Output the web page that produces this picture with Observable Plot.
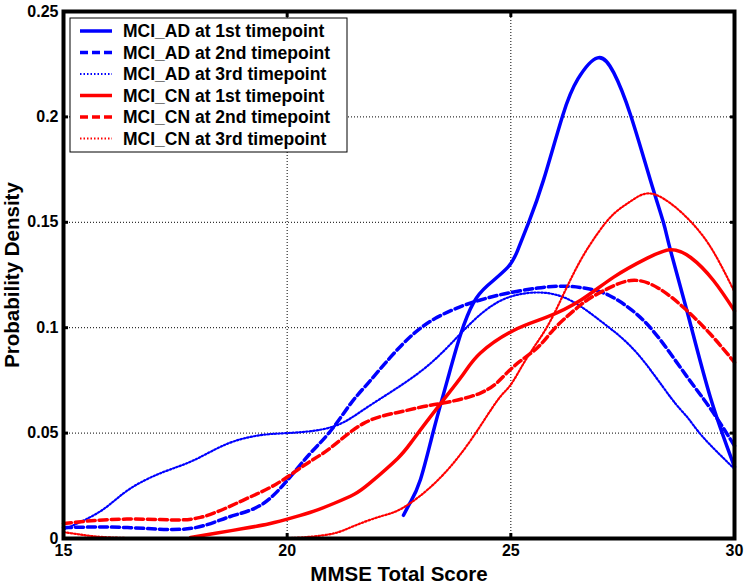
<!DOCTYPE html>
<html>
<head>
<meta charset="utf-8">
<script src="https://cdn.jsdelivr.net/npm/d3@7"></script>
<script src="https://cdn.jsdelivr.net/npm/@observablehq/plot@0.6"></script>
<style>
  html, body { margin: 0; padding: 0; background: #fff; }
  svg { font-family: "Liberation Sans", Arial, sans-serif; }
</style>
</head>
<body>
<div id="chart"></div>
<script>
const seriesNames = [
  "MCI_AD at 1st timepoint", "MCI_AD at 2nd timepoint", "MCI_AD at 3rd timepoint",
  "MCI_CN at 1st timepoint", "MCI_CN at 2nd timepoint", "MCI_CN at 3rd timepoint"
];
const seriesColors = ["#0000ff", "#0000ff", "#0000ff", "#ff0000", "#ff0000", "#ff0000"];
const seriesStyles = ["solid", "dashed", "dotted", "solid", "dashed", "dotted"];

const ad1X = [22.6, 22.75, 22.98, 23.27, 23.58, 23.88, 24.17, 24.48, 24.93, 25.15, 25.4, 25.73, 26.16, 26.5, 26.94, 27.3, 27.68, 28.12, 28.41, 28.57, 28.95, 29.46, 30];
const ad1Y = [0.011, 0.017, 0.028, 0.051, 0.075, 0.097, 0.112, 0.120, 0.1286, 0.1366, 0.150, 0.170, 0.2007, 0.218, 0.228, 0.221, 0.2007, 0.170, 0.150, 0.1366, 0.107, 0.067, 0.034];

const ad2X = [15, 16.43, 17.77, 18.67, 19.4, 20.0, 20.5, 20.97, 21.42, 21.8, 22.31, 22.82, 23.36, 23.94, 24.3, 24.84, 25.6, 26.2, 26.7, 27.2, 27.8, 28.35, 28.95, 29.46, 30];
const ad2Y = [0.0052, 0.0052, 0.0046, 0.010, 0.0157, 0.0275, 0.040, 0.051, 0.064, 0.0735, 0.086, 0.097, 0.105, 0.1105, 0.113, 0.1160, 0.1188, 0.1197, 0.1186, 0.1153, 0.1067, 0.094, 0.0764, 0.0617, 0.044];

const ad3X = [15, 15.83, 16.43, 17.17, 17.9, 18.67, 19.4, 20.0, 20.97, 21.7, 22.47, 23.2, 23.8, 24.25, 24.84, 25.6, 26.33, 27.08, 27.83, 28.57, 28.95, 29.3, 30];
const ad3Y = [0.0042, 0.013, 0.0228, 0.031, 0.037, 0.045, 0.049, 0.050, 0.0527, 0.061, 0.0716, 0.083, 0.0955, 0.105, 0.1135, 0.1167, 0.113, 0.102, 0.0877, 0.067, 0.0574, 0.048, 0.033];

const cn1X = [17.84, 18.4, 19.02, 19.6, 20.14, 20.6, 21.04, 21.5, 21.86, 22.47, 22.82, 23.43, 23.94, 24.32, 25.06, 25.8, 26.56, 27.3, 28.05, 28.57, 29.02, 29.53, 30];
const cn1Y = [0.0005, 0.0025, 0.0047, 0.007, 0.010, 0.013, 0.0166, 0.021, 0.0265, 0.038, 0.047, 0.064, 0.078, 0.088, 0.0987, 0.105, 0.113, 0.124, 0.133, 0.137, 0.1333, 0.1224, 0.108];

const cn2X = [15, 16.05, 17.17, 18.06, 19.0, 19.77, 20.4, 20.97, 21.7, 22.47, 23.05, 23.43, 24.32, 24.84, 25.2, 25.6, 25.95, 26.33, 26.7, 27.08, 27.68, 28.28, 28.86, 29.46, 30];
const cn2Y = [0.0071, 0.009, 0.009, 0.010, 0.018, 0.026, 0.035, 0.043, 0.0545, 0.0598, 0.0626, 0.064, 0.069, 0.077, 0.084, 0.0906, 0.099, 0.1067, 0.113, 0.1176, 0.1224, 0.119, 0.1096, 0.097, 0.0835];

const cn3X = [15, 15.5, 16.05, 17, 18, 19, 20, 20.5, 21.04, 21.5, 22.09, 22.6, 23.36, 24.1, 24.7, 25.0, 25.37, 25.8, 26.18, 26.56, 26.94, 27.3, 27.68, 28.08, 28.57, 29.08, 29.53, 30];
const cn3Y = [0.003, 0.0015, 0.0005, 0, 0, 0, 0.0002, 0.0008, 0.0024, 0.006, 0.0105, 0.0147, 0.0275, 0.0465, 0.0655, 0.073, 0.086, 0.100, 0.116, 0.132, 0.1447, 0.154, 0.160, 0.1637, 0.159, 0.149, 0.136, 0.117];

const xTicks = [15, 20, 25, 30];
const yTicks = [0, 0.05, 0.1, 0.15, 0.2, 0.25];
const yTickLabels = ["0", "0.05", "0.1", "0.15", "0.2", "0.25"];
const xGrid = [20, 25];
const yGrid = [0.05, 0.1, 0.15, 0.2];

const allX = [ad1X, ad2X, ad3X, cn1X, cn2X, cn3X];
const allY = [ad1Y, ad2Y, ad3Y, cn1Y, cn2Y, cn3Y];
const rows = [];
allX.forEach((xs, s) => xs.forEach((x, i) => rows.push({series: seriesNames[s], x, y: allY[s][i]})));

const dashFor = {solid: null, dashed: "8,4", dotted: "1.5,2"};
const widthFor = {solid: 3.5, dashed: 3.5, dotted: 2.2};

const lineMarks = seriesNames.map((name, s) => Plot.line(rows.filter(r => r.series === name), {
  x: "x", y: "y", stroke: seriesColors[s],
  strokeWidth: widthFor[seriesStyles[s]],
  strokeDasharray: dashFor[seriesStyles[s]],
  curve: "natural"
}));

function legend(index, scales, values, dims) {
  const g = d3.create("svg:g");
  const x0 = dims.marginLeft + 7, y0 = dims.marginTop + 7;
  const w = 277, h = 134, step = 21.5;
  g.append("rect").attr("x", x0).attr("y", y0).attr("width", w).attr("height", h)
    .attr("fill", "white").attr("stroke", "black").attr("stroke-width", 1);
  seriesNames.forEach((name, s) => {
    const cy = y0 + 13 + s * step;
    g.append("line").attr("x1", x0 + 10).attr("x2", x0 + 42).attr("y1", cy).attr("y2", cy)
      .attr("stroke", seriesColors[s])
      .attr("stroke-width", widthFor[seriesStyles[s]])
      .attr("stroke-dasharray", dashFor[seriesStyles[s]]);
    g.append("text").attr("x", x0 + 53).attr("y", cy).attr("dy", "0.36em")
      .attr("text-anchor", "start")
      .attr("font-size", 17.5).attr("font-weight", "bold").attr("fill", "black").text(name);
  });
  return g.node();
}

const chart = Plot.plot({
  width: 751,
  height: 585,
  marginLeft: 63,
  marginRight: 17,
  marginTop: 11,
  marginBottom: 47,
  style: {fontFamily: "Liberation Sans, Arial, sans-serif", background: "white"},
  x: {domain: [15, 30], ticks: xTicks},
  y: {domain: [0, 0.25], ticks: yTicks},
  marks: [
    Plot.ruleX(xGrid, {stroke: "black", strokeWidth: 1, strokeDasharray: "1,2"}),
    Plot.ruleY(yGrid, {stroke: "black", strokeWidth: 1, strokeDasharray: "1,2"}),
    ...lineMarks,
    Plot.axisX(xTicks, {anchor: "bottom", tickSize: -5, tickPadding: 11, strokeWidth: 3, fontSize: 16, fontWeight: "bold", label: null}),
    Plot.axisX(xTicks, {anchor: "top", tickSize: -5, tickFormat: () => "", strokeWidth: 3, label: null}),
    Plot.axisY(yTicks, {anchor: "left", tickSize: -5, tickPadding: 10, strokeWidth: 3, fontSize: 16, fontWeight: "bold", label: null, tickFormat: (d) => yTickLabels[yTicks.indexOf(d)]}),
    Plot.axisY(yTicks, {anchor: "right", tickSize: -5, tickFormat: () => "", strokeWidth: 3, label: null}),
    Plot.frame({stroke: "black", strokeWidth: 4}),
    legend,
    Plot.text(["MMSE Total Score"], {frameAnchor: "bottom", textAnchor: "middle", dy: 42, fontSize: 20.5, fontWeight: "bold", fill: "black"}),
    Plot.text(["Probability Density"], {frameAnchor: "left", textAnchor: "middle", dx: -51, rotate: -90, fontSize: 20.5, fontWeight: "bold", fill: "black"})
  ]
});
document.getElementById("chart").appendChild(chart);
</script>
</body>
</html>
